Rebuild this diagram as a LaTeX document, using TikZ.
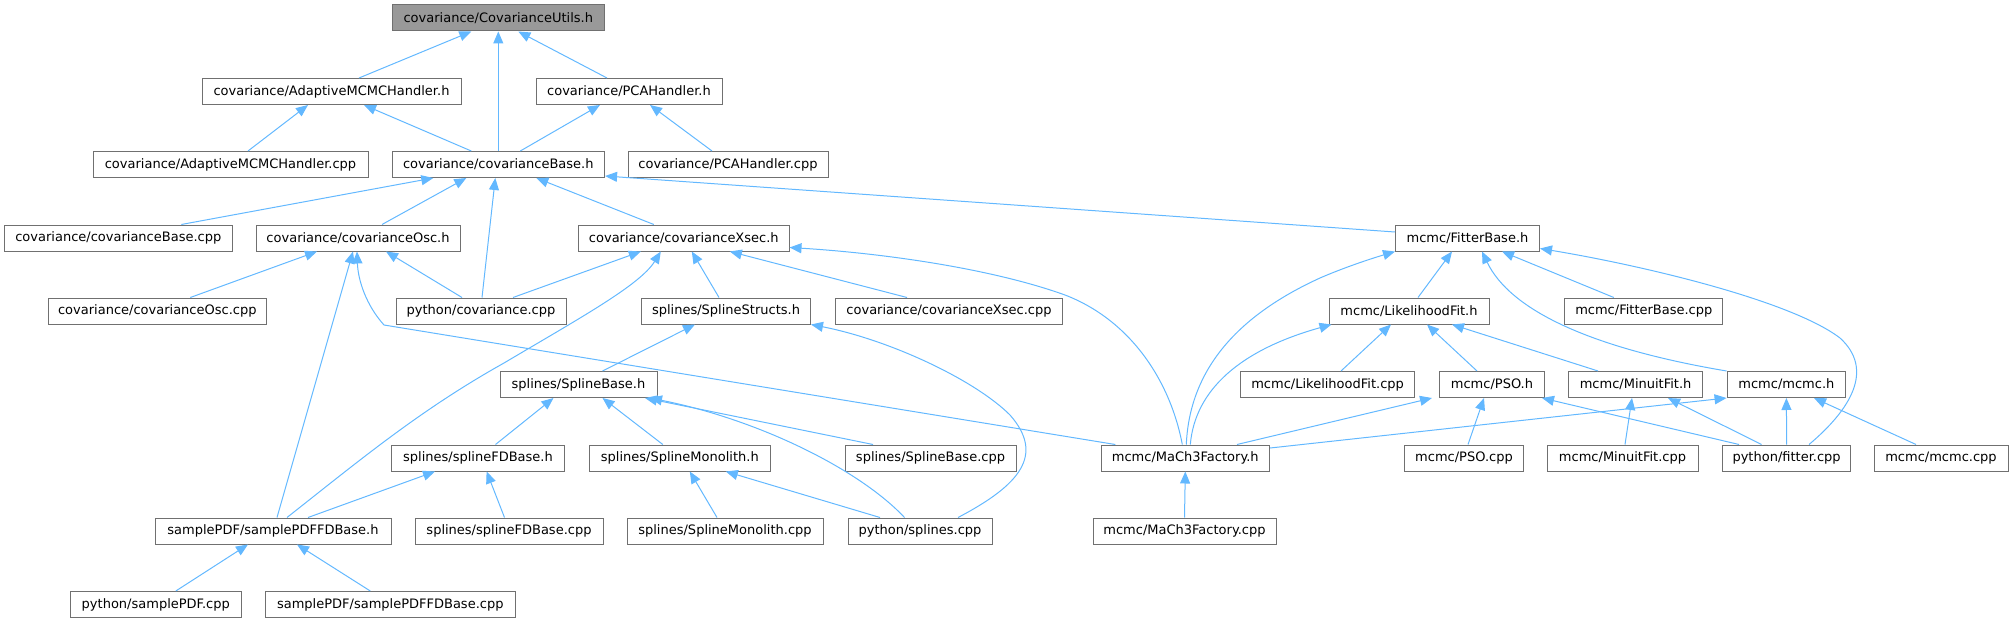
\documentclass[tikz,border=0pt]{standalone}
\usepackage{fontspec}
\setmainfont{DejaVu Sans}
\usetikzlibrary{arrows.meta}
\definecolor{edgeblue}{RGB}{99,184,255}
\definecolor{boxgray}{RGB}{112,112,112}
\definecolor{rootfill}{RGB}{153,153,153}

\begin{document}
\begin{tikzpicture}[x=1pt, y=1pt, font=\fontsize{13}{15}\selectfont,
    file/.style={draw=boxgray, line width=1pt, fill=white,
                 minimum height=26pt, inner sep=0pt},
    root/.style={file, fill=rootfill},
    dep/.style={edgeblue, line width=1pt,
                -{Triangle[length=12pt,width=10pt]}}]
    \useasboundingbox (0,0) rectangle (2013,-623);

    \node[root, minimum width=212.5] (utils) at (498.3,-18) {covariance/CovarianceUtils.h};
    \node[file, minimum width=259] (adaptH) at (331.5,-91.5) {covariance/AdaptiveMCMCHandler.h};
    \node[file, minimum width=186] (pcaH) at (629,-91.5) {covariance/PCAHandler.h};
    \node[file, minimum width=275] (adaptC) at (230.5,-164.5) {covariance/AdaptiveMCMCHandler.cpp};
    \node[file, minimum width=212.5] (baseH) at (498.3,-164.5) {covariance/covarianceBase.h};
    \node[file, minimum width=200] (pcaC) at (728,-164.5) {covariance/PCAHandler.cpp};
    \node[file, minimum width=227.5] (baseC) at (118.3,-238) {covariance/covarianceBase.cpp};
    \node[file, minimum width=204] (oscH) at (358,-238) {covariance/covarianceOsc.h};
    \node[file, minimum width=210.4] (xsecH) at (683.8,-238) {covariance/covarianceXsec.h};
    \node[file, minimum width=144] (fitterH) at (1467.5,-238) {mcmc/FitterBase.h};
    \node[file, minimum width=218.5] (oscC) at (157.3,-311) {covariance/covarianceOsc.cpp};
    \node[file, minimum width=170] (pyCov) at (481,-311) {python/covariance.cpp};
    \node[file, minimum width=169] (structsH) at (726,-311) {splines/SplineStructs.h};
    \node[file, minimum width=227] (xsecC) at (949,-311) {covariance/covarianceXsec.cpp};
    \node[file, minimum width=160] (likeH) at (1409,-311) {mcmc/LikelihoodFit.h};
    \node[file, minimum width=158] (fitterC) at (1643.8,-311) {mcmc/FitterBase.cpp};
    \node[file, minimum width=157] (splBaseH) at (578.5,-384.5) {splines/SplineBase.h};
    \node[file, minimum width=174] (likeC) at (1327.6,-384.5) {mcmc/LikelihoodFit.cpp};
    \node[file, minimum width=104.6] (psoH) at (1492,-384.5) {mcmc/PSO.h};
    \node[file, minimum width=134.7] (minuitH) at (1635.6,-384.5) {mcmc/MinuitFit.h};
    \node[file, minimum width=118.7] (mcmcH) at (1786.4,-384.5) {mcmc/mcmc.h};
    \node[file, minimum width=173.5] (fdH) at (478,-458) {splines/splineFDBase.h};
    \node[file, minimum width=181.5] (monoH) at (679.8,-458) {splines/SplineMonolith.h};
    \node[file, minimum width=171] (splBaseC) at (930.5,-458) {splines/SplineBase.cpp};
    \node[file, minimum width=168.6] (factH) at (1185.3,-458) {mcmc/MaCh3Factory.h};
    \node[file, minimum width=118.7] (psoC) at (1464,-458) {mcmc/PSO.cpp};
    \node[file, minimum width=151] (minuitC) at (1622.5,-458) {mcmc/MinuitFit.cpp};
    \node[file, minimum width=128.2] (pyFit) at (1786.6,-458) {python/fitter.cpp};
    \node[file, minimum width=134] (mcmcC) at (1941,-458) {mcmc/mcmc.cpp};
    \node[file, minimum width=236] (sampleH) at (273,-531) {samplePDF/samplePDFFDBase.h};
    \node[file, minimum width=188] (fdC) at (509,-531) {splines/splineFDBase.cpp};
    \node[file, minimum width=196] (monoC) at (725,-531) {splines/SplineMonolith.cpp};
    \node[file, minimum width=144] (pySpl) at (920,-531) {python/splines.cpp};
    \node[file, minimum width=183] (factC) at (1184.5,-531) {mcmc/MaCh3Factory.cpp};
    \node[file, minimum width=170.5] (pySample) at (155.8,-604.5) {python/samplePDF.cpp};
    \node[file, minimum width=250.6] (sampleC) at (390.3,-604.5) {samplePDF/samplePDFFDBase.cpp};

    \draw[dep] ([xshift=27.5]adaptH.north) -- ([xshift=-27]utils.south);
    \draw[dep] (baseH.north) -- (utils.south);
    \draw[dep] ([xshift=-22]pcaH.north) -- ([xshift=20]utils.south);
    \draw[dep] ([xshift=17.5]adaptC.north) -- ([xshift=-23.5]adaptH.south);
    \draw[dep] ([xshift=-27]baseH.north) -- ([xshift=32.5]adaptH.south);
    \draw[dep] ([xshift=22]baseH.north) -- ([xshift=-29]pcaH.south);
    \draw[dep] ([xshift=-16]pcaC.north) -- ([xshift=21]pcaH.south);
    \draw[dep] ([xshift=63]baseC.north) -- ([xshift=-65]baseH.south);
    \draw[dep] ([xshift=24]oscH.north) -- ([xshift=-32]baseH.south);
    \draw[dep] ([xshift=1]pyCov.north) -- ([xshift=-3]baseH.south);
    \draw[dep] ([xshift=-30]xsecH.north) -- ([xshift=38]baseH.south);
    \draw[dep] ([yshift=6]fitterH.west) -- ([yshift=2]baseH.south east);
    \draw[dep] ([xshift=33]oscC.north) -- ([xshift=-41]oscH.south);
    \draw[dep] ([xshift=-19]pyCov.north) -- ([xshift=28]oscH.south);
    \draw[dep] ([xshift=4]sampleH.north) -- ([xshift=-5]oscH.south);
    \draw[dep] ([xshift=-70]factH.north) -- (384,-325)
        .. controls (366,-305) and (358,-280) .. ([xshift=-1]oscH.south);
    \draw[dep] ([xshift=32]pyCov.north) -- ([xshift=-43]xsecH.south);
    \draw[dep] ([xshift=14]sampleH.north) .. controls (360,-460) and (420,-410) .. (504,-363)
        .. controls (580,-318) and (640,-285) .. ([xshift=-23]xsecH.south);
    \draw[dep] ([xshift=-7]structsH.north) -- ([xshift=8]xsecH.south);
    \draw[dep] ([xshift=-42]xsecC.north) -- ([xshift=46]xsecH.south);
    \draw[dep] ([xshift=-3]factH.north) .. controls (1170,-380) and (1130,-320) .. (1065,-295)
        .. controls (990,-268) and (880,-253) .. ([yshift=4]xsecH.south east);
    \draw[dep] ([xshift=24]splBaseH.north) -- ([xshift=-31]structsH.south);
    \draw[dep] ([xshift=38]pySpl.north) .. controls (1020,-485) and (1045,-455) .. (1010,-415)
        .. controls (975,-380) and (890,-340) .. (structsH.south east);
    \draw[dep] ([xshift=17.5]fdH.north) -- ([xshift=-25]splBaseH.south);
    \draw[dep] ([xshift=-17]monoH.north) -- ([xshift=24]splBaseH.south);
    \draw[dep] ([xshift=-57.5]splBaseC.north) -- ([xshift=66.5]splBaseH.south);
    \draw[dep] ([xshift=-15.5]pySpl.north) .. controls (860,-470) and (760,-420) .. ([xshift=71.5]splBaseH.south);
    \draw[dep] ([xshift=35]sampleH.north) -- ([xshift=-43]fdH.south);
    \draw[dep] ([xshift=-4.5]fdC.north) -- ([xshift=8.6]fdH.south);
    \draw[dep] ([xshift=-8]monoC.north) -- ([xshift=10]monoH.south);
    \draw[dep] ([xshift=-40]pySpl.north) -- ([xshift=46]monoH.south);
    \draw[dep] ([xshift=20]pySample.north) -- ([xshift=-25]sampleH.south);
    \draw[dep] ([xshift=-20]sampleC.north) -- ([xshift=24]sampleH.south);

    \draw[dep] ([xshift=1]factH.north) .. controls (1190,-360) and (1250,-310) .. (1320,-278)
        .. controls (1350,-265) and (1380,-256) .. (fitterH.south west);
    \draw[dep] ([xshift=9]likeH.north) -- ([xshift=-15.5]fitterH.south);
    \draw[dep] ([xshift=-30]fitterC.north) -- ([xshift=34.5]fitterH.south);
    \draw[dep] (mcmcH.north west) .. controls (1590,-348) and (1510,-310) .. ([xshift=14.5]fitterH.south);
    \draw[dep] ([xshift=22.4]pyFit.north) .. controls (1850,-410) and (1875,-370) .. (1840,-338)
        .. controls (1790,-300) and (1640,-265) .. ([yshift=3]fitterH.south east);
    \draw[dep] ([xshift=5]factH.north) .. controls (1195,-390) and (1240,-350) .. ([xshift=3]likeH.south west);
    \draw[dep] ([xshift=13.4]likeC.north) -- ([xshift=-18]likeH.south);
    \draw[dep] ([xshift=-15]psoH.north) -- ([xshift=18]likeH.south);
    \draw[dep] ([xshift=-37.6]minuitH.north) -- ([xshift=43]likeH.south);
    \draw[dep] ([xshift=51.7]factH.north) -- ([xshift=-60]psoH.south);
    \draw[dep] ([xshift=4]psoC.north) -- ([xshift=-8]psoH.south);
    \draw[dep] ([xshift=-47.6]pyFit.north) -- ([xshift=50]psoH.south);
    \draw[dep] ([xshift=2.5]minuitC.north) -- ([xshift=-3.6]minuitH.south);
    \draw[dep] ([xshift=-25]pyFit.north) -- ([xshift=32.4]minuitH.south);
    \draw[dep] ([yshift=10]factH.east) -- (mcmcH.south west);
    \draw[dep] (pyFit.north) -- (mcmcH.south);
    \draw[dep] ([xshift=-25]mcmcC.north) -- ([xshift=27.6]mcmcH.south);
    \draw[dep] (factC.north) -- (factH.south);
\end{tikzpicture}
\end{document}
